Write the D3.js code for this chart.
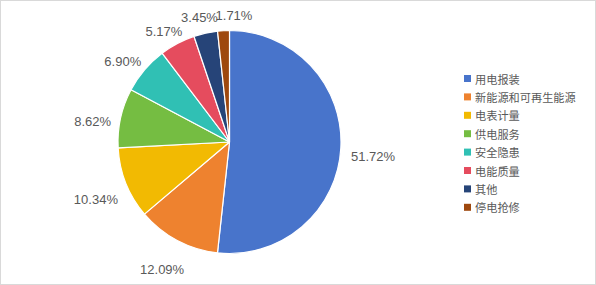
<!DOCTYPE html>
<html><head><meta charset="utf-8">
<script src="https://cdn.jsdelivr.net/npm/d3@7"></script>
<style>
html,body{margin:0;padding:0;background:#fff;}
svg{display:block;}
</style></head>
<body>
<svg id="chart" width="596" height="285"></svg>
<script>
const categories = ["用电报装","新能源和可再生能源","电表计量","供电服务","安全隐患","电能质量","其他","停电抢修"];
const values = [51.72, 12.09, 10.34, 8.62, 6.90, 5.17, 3.45, 1.71];
const labels = ["51.72%","12.09%","10.34%","8.62%","6.90%","5.17%","3.45%","1.71%"];
const colors = ["#4874CB","#EE822F","#F2BA02","#75BD42","#30C0B4","#E54C5E","#264478","#9E480E"];

const W = 596, H = 285;
const svg = d3.select("#chart");
svg.append("rect").attr("x",0.5).attr("y",0.5).attr("width",W-1).attr("height",H-1)
  .attr("fill","#fff").attr("stroke","#D9D9D9");

const cx = 229.5, cy = 142, R = 111.5;
const data = categories.map((c,i)=>({cat:c, v:values[i], label:labels[i], color:colors[i]}));
const pie = d3.pie().value(d=>d.v).sort(null).startAngle(0).endAngle(2*Math.PI);
const arcs = pie(data);
const arc = d3.arc().innerRadius(0).outerRadius(R);

const g = svg.append("g").attr("transform",`translate(${cx},${cy})`);
g.selectAll("path.slice").data(arcs).join("path")
  .attr("class","slice")
  .attr("d",arc)
  .attr("fill",d=>d.data.color)
  .attr("stroke","#fff").attr("stroke-width",1.2).attr("stroke-linejoin","round");

// labels: outside end
const fontPct = 13;
const nudgeX = [0,0,0,0,0,0,0,12];
const nudgeY = [8,14,10,7,3,4,1,2];
const gap = 10;
const lbl = g.selectAll("text.pct").data(arcs).join("text")
  .attr("class","pct")
  .attr("font-family","'Liberation Sans', Arial, sans-serif")
  .attr("font-size",fontPct)
  .attr("fill","#595959")
  .attr("text-anchor","middle")
  .attr("dominant-baseline","central")
  .text(d=>d.data.label);
lbl.each(function(d,i){
  const bb = this.getBBox();
  const a = (d.startAngle+d.endAngle)/2;
  const s = Math.sin(a), c = -Math.cos(a);
  const px = (R+gap)*s, py = (R+gap)*c;
  const x = px + bb.width/2*s + nudgeX[i];
  const y = py + bb.height/2*c + nudgeY[i];
  d3.select(this).attr("x",x).attr("y",y);
});

// legend
const legX = 464, legY = 75, legStep = 18.4;
const leg = svg.append("g");
const items = leg.selectAll("g").data(data).join("g")
  .attr("transform",(d,i)=>`translate(${legX},${legY+i*legStep})`);
items.append("rect").attr("width",7).attr("height",7).attr("fill",d=>d.color);
items.append("text").attr("x",11).attr("y",3.5)
  .attr("dominant-baseline","central")
  .attr("font-family","'Noto Sans CJK SC', sans-serif")
  .attr("font-size",11.2)
  .attr("fill","#595959")
  .text(d=>d.cat);
</script>
</body></html>
